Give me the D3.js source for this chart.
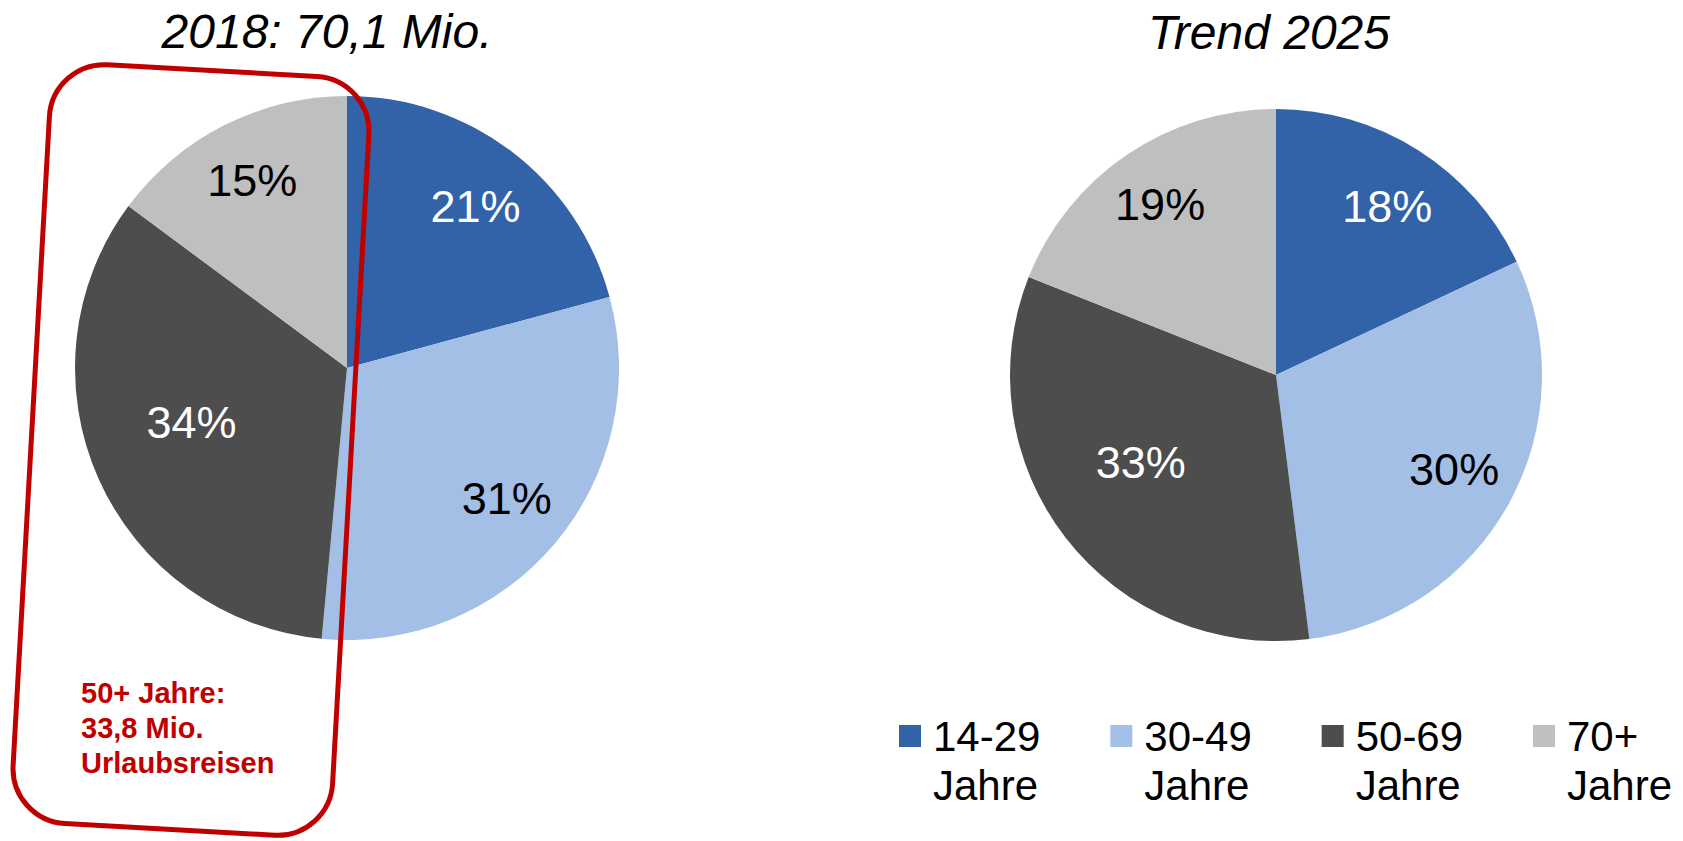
<!DOCTYPE html>
<html>
<head>
<meta charset="utf-8">
<script src="https://d3js.org/d3.v7.min.js"></script>
<style>
  html, body { margin: 0; padding: 0; background: #fff; }
  svg { display: block; font-family: "Liberation Sans", Arial, sans-serif; }
</style>
</head>
<body>
<div id="vis"></div>
<script>
// Data
var categories = ['14-29', '30-49', '50-69', '70+'];
var categorySuffix = 'Jahre';
var values2018 = [21, 31, 34, 15];
var values2025 = [18, 30, 33, 19];
var titles = ['2018: 70,1 Mio.', 'Trend 2025'];
var noteLines = ['50+ Jahre:', '33,8 Mio.', 'Urlaubsreisen'];

// Styles
var sliceColors = ['#3263a8', '#a3bfe6', '#4d4d4d', '#bfbfbf'];
var labelColors = ['#ffffff', '#000000', '#ffffff', '#000000'];
// Excel puts the dark slice label further in and a bit turned
var labelRadiusFactor = [0.76, 0.757, 0.605, 0.775];
var labelAngleShift = [1, -1, 5, 0]; // degrees
var red = '#c00000';

var width = 1683;
var height = 841;

var svg = d3.select('#vis')
  .append('svg')
  .attr('width', width)
  .attr('height', height);

var color = d3.scaleOrdinal().domain(categories).range(sliceColors);
var labelColor = d3.scaleOrdinal().domain(categories).range(labelColors);

var pie = d3.pie()
  .sort(null)
  .value(function (d) { return d.value; });

var pies = [
  { title: titles[0], values: values2018, cx: 347, cy: 368, r: 272, titleX: 327, titleY: 48 },
  { title: titles[1], values: values2025, cx: 1276, cy: 375, r: 266, titleX: 1269, titleY: 49 }
];

function drawPie(p) {
  var g = svg.append('g')
    .attr('transform', 'translate(' + p.cx + ',' + p.cy + ')');

  var data = categories.map(function (c, i) { return { cat: c, idx: i, value: p.values[i] }; });
  var arcs = pie(data);

  var arc = d3.arc().innerRadius(0).outerRadius(p.r);

  g.selectAll('path')
    .data(arcs)
    .enter().append('path')
    .attr('d', arc)
    .attr('fill', function (d) { return color(d.data.cat); });

  g.selectAll('text.label')
    .data(arcs)
    .enter().append('text')
    .attr('class', 'label')
    .attr('transform', function (d) {
      var k = labelRadiusFactor[d.data.idx] * p.r;
      var a = (d.startAngle + d.endAngle) / 2 + labelAngleShift[d.data.idx] * Math.PI / 180;
      var x = k * Math.sin(a);
      var y = -k * Math.cos(a);
      return 'translate(' + x + ',' + (y + 16) + ')';
    })
    .attr('text-anchor', 'middle')
    .attr('font-size', 45)
    .attr('fill', function (d) { return labelColor(d.data.cat); })
    .text(function (d) { return d.data.value + '%'; });

  svg.append('text')
    .attr('x', p.titleX)
    .attr('y', p.titleY)
    .attr('text-anchor', 'middle')
    .attr('font-size', 48)
    .attr('font-style', 'italic')
    .text(p.title);
}

pies.forEach(drawPie);

// red rounded box around the 50+ slices
svg.append('rect')
  .attr('x', -160)
  .attr('y', -380)
  .attr('width', 320)
  .attr('height', 760)
  .attr('rx', 55)
  .attr('ry', 55)
  .attr('fill', 'none')
  .attr('stroke', red)
  .attr('stroke-width', 5)
  .attr('transform', 'translate(191,450) rotate(3.2)');

svg.append('text')
  .attr('x', 81)
  .attr('y', 703)
  .attr('font-size', 29)
  .attr('font-weight', 'bold')
  .attr('fill', red)
  .selectAll('tspan')
  .data(noteLines)
  .enter().append('tspan')
  .attr('x', 81)
  .attr('dy', function (d, i) { return i === 0 ? 0 : 35; })
  .text(function (d) { return d; });

// legend
var legendX = d3.scaleLinear().domain([0, categories.length - 1]).range([899, 1533]);

var legend = svg.selectAll('.legend')
  .data(categories)
  .enter().append('g')
  .attr('class', 'legend')
  .attr('transform', function (d, i) { return 'translate(' + legendX(i) + ',0)'; });

legend.append('rect')
  .attr('x', 0)
  .attr('y', 725)
  .attr('width', 22)
  .attr('height', 22)
  .attr('fill', function (d) { return color(d); });

legend.append('text')
  .attr('x', 34)
  .attr('y', 751)
  .attr('font-size', 42)
  .text(function (d) { return d; });

legend.append('text')
  .attr('x', 34)
  .attr('y', 800)
  .attr('font-size', 42)
  .text(categorySuffix);
</script>
</body>
</html>
